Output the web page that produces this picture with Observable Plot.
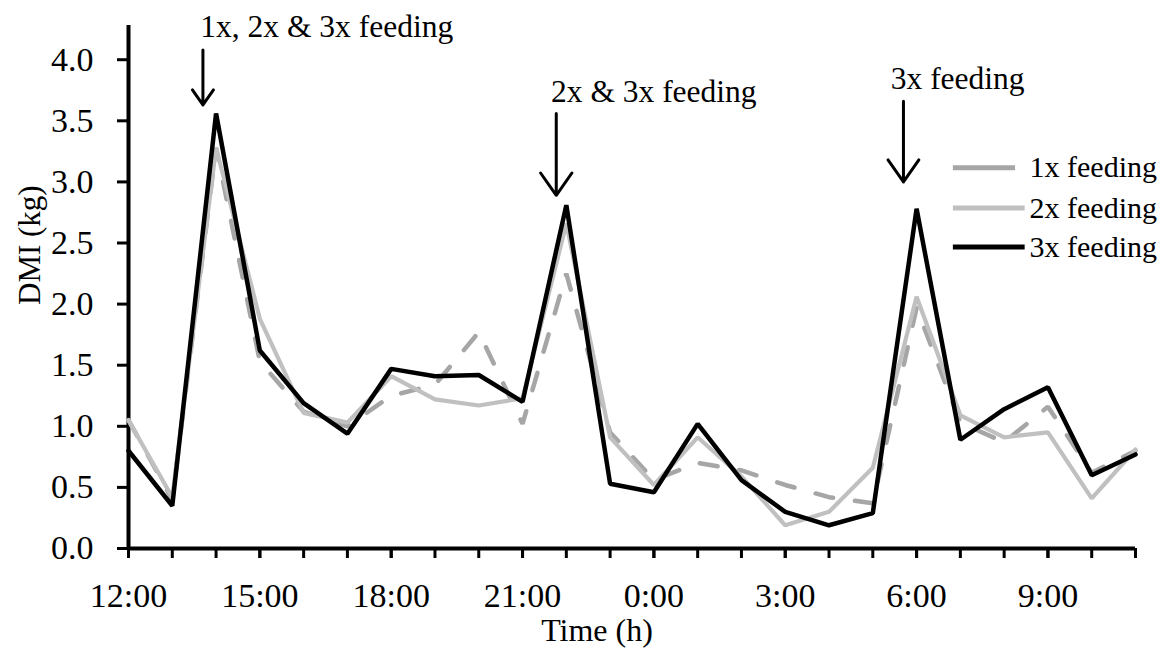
<!DOCTYPE html>
<html>
<head>
<meta charset="utf-8">
<script src="https://cdn.jsdelivr.net/npm/d3@7"></script>
<script src="https://cdn.jsdelivr.net/npm/@observablehq/plot@0.6"></script>
<style>
  html, body { margin: 0; padding: 0; background: #fff; }
  #chart { width: 1171px; height: 648px; }
</style>
</head>
<body>
<div id="chart"></div>
<script>
// Hours since 12:00 (12:00 … 11:00 next day)
const hourIndex = [0,1,2,3,4,5,6,7,8,9,10,11,12,13,14,15,16,17,18,19,20,21,22,23];
const tickPositions = [0,3,6,9,12,15,18,21];
const tickLabels = ["12:00","15:00","18:00","21:00","0:00","3:00","6:00","9:00"];
const yTicks = [0,0.5,1,1.5,2,2.5,3,3.5,4];

const seriesNames = ["1x feeding","2x feeding","3x feeding"];
const feed1 = [1.05,0.40,3.28,1.53,1.12,1.00,1.25,1.34,1.77,1.02,2.25,0.95,0.56,0.70,0.64,0.52,0.42,0.37,1.97,1.03,0.87,1.16,0.62,0.80];
const feed2 = [1.05,0.42,3.28,1.88,1.11,1.03,1.41,1.22,1.17,1.23,2.66,0.91,0.52,0.91,0.59,0.19,0.30,0.66,2.06,1.09,0.91,0.95,0.41,0.81];
const feed3 = [0.80,0.35,3.56,1.62,1.19,0.94,1.47,1.41,1.42,1.20,2.81,0.53,0.46,1.02,0.56,0.30,0.19,0.29,2.78,0.89,1.14,1.32,0.60,0.77];

// Annotations
const annText = ["1x, 2x & 3x feeding","2x & 3x feeding","3x feeding"];
const annTextX = [1.64, 9.65, 17.41];
const annTextY = [4.27, 3.74, 3.84];
const arrowX = [1.70, 9.77, 17.70];
const arrowTop = [4.08, 3.56, 3.66];
const arrowTip = [3.63, 2.89, 3.00];

// Legend
const legendY = [3.115, 2.787, 2.467];
const legendX1 = 18.84, legendX2 = 20.48, legendTextX = 20.58;

const colors = ["#a6a6a6","#c0c0c0","#000000"];
const seriesValues = [feed1, feed2, feed3];
const rows = [];
seriesNames.forEach((s, i) => hourIndex.forEach((h, j) => rows.push({series: s, h, v: seriesValues[i][j]})));
const ann = annText.map((t, i) => ({t, x: annTextX[i], y: annTextY[i], ax: arrowX[i], top: arrowTop[i], tip: arrowTip[i]}));
const leg = seriesNames.map((s, i) => ({s, y: legendY[i], i}));

const font = "'Liberation Serif', 'Times New Roman', serif";

const chart = Plot.plot({
  width: 1171, height: 648,
  marginLeft: 128, marginRight: 36, marginTop: 25, marginBottom: 100,
  style: {fontFamily: font, fontSize: "32px", color: "#000", background: "#fff", overflow: "visible"},
  x: {domain: [0, 23]},
  y: {domain: [0, 4.28]},
  marks: [
    Plot.axisY({ticks: yTicks, tickFormat: d3.format(".1f"), tickSize: 11, tickPadding: 24, strokeWidth: 3, label: null, fontSize: 34}),
    Plot.axisX({ticks: hourIndex, tickFormat: () => "", tickSize: 10, strokeWidth: 3, label: null}),
    Plot.axisX({ticks: tickPositions, tickFormat: (d) => tickLabels[tickPositions.indexOf(d)], tickSize: 10, tickPadding: 24, strokeWidth: 3, label: null, fontSize: 34}),
    Plot.ruleY([0], {strokeWidth: 4}),
    Plot.ruleX([0], {y1: 0, y2: 4.28, strokeWidth: 4}),
    Plot.line(rows.filter(d => d.series === seriesNames[0]), {x: "h", y: "v", stroke: colors[0], strokeWidth: 4.5, strokeDasharray: "18 22", strokeLinecap: "round", strokeLinejoin: "miter"}),
    Plot.line(rows.filter(d => d.series === seriesNames[1]), {x: "h", y: "v", stroke: colors[1], strokeWidth: 4.2, strokeLinejoin: "miter"}),
    Plot.line(rows.filter(d => d.series === seriesNames[2]), {x: "h", y: "v", stroke: colors[2], strokeWidth: 4.5, strokeLinejoin: "miter"}),
    Plot.arrow(ann, {x1: "ax", y1: "top", x2: "ax", y2: "tip", stroke: "#000", strokeWidth: 3, headLength: 18, headAngle: 70}),
    Plot.text(ann, {x: "x", y: "y", text: "t", textAnchor: "start", lineAnchor: "middle", fontSize: 31.5}),
    Plot.ruleY(leg, {y: "y", x1: legendX1, x2: d => d.i === 0 ? legendX1 + 1.42 : legendX2, stroke: d => colors[d.i], strokeWidth: 5,
      strokeDasharray: d => d.i === 0 ? "19 20" : null, strokeLinecap: d => d.i === 0 ? "round" : "butt"}),
    Plot.text(leg, {x: legendTextX, y: "y", text: "s", textAnchor: "start", lineAnchor: "middle", fontSize: 30}),
    Plot.text(["Time (h)"], {frameAnchor: "bottom", dx: -35, dy: 82, lineAnchor: "middle", fontSize: 32}),
    Plot.text(["DMI (kg)"], {frameAnchor: "left", dx: -98, dy: 18, rotate: -90, lineAnchor: "middle", fontSize: 31})
  ]
});
document.getElementById("chart").appendChild(chart);
</script>
</body>
</html>
